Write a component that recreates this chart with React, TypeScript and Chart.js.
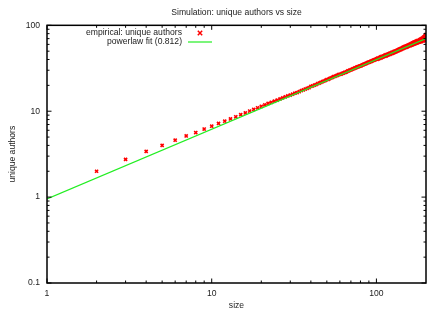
import React, { useEffect, useRef } from "react";
import { Chart, registerables } from "chart.js";

Chart.register(...registerables);

const titleText = "Simulation: unique authors vs size";
const xTitle = "size";
const yTitle = "unique authors";
const empiricalLabel = "empirical: unique authors";
const fitLabel = "powerlaw fit (0.812)";

const xTickValues = [1, 10, 100];
const yTickValues = [0.1, 1, 10, 100];

const sizes = [
  2, 3, 4, 5, 6, 7, 8, 9, 10, 11, 12, 13, 14, 15, 16, 17, 18, 19, 20,
  21, 22, 23, 24, 25, 26, 27, 28, 29, 30,
  31, 32, 33, 34, 35, 36, 37, 38, 39, 40,
  41, 42, 43, 44, 45, 46, 47, 48, 49, 50,
  51, 52, 53, 54, 55, 56, 57, 58, 59, 60,
  61, 62, 63, 64, 65, 66, 67, 68, 69, 70,
  71, 72, 73, 74, 75, 76, 77, 78, 79, 80,
  81, 82, 83, 84, 85, 86, 87, 88, 89, 90,
  91, 92, 93, 94, 95, 96, 97, 98, 99, 100,
  101, 102, 103, 104, 105, 106, 107, 108, 109, 110,
  111, 112, 113, 114, 115, 116, 117, 118, 119, 120,
  121, 122, 123, 124, 125, 126, 127, 128, 129, 130,
  131, 132, 133, 134, 135, 136, 137, 138, 139, 140,
  141, 142, 143, 144, 145, 146, 147, 148, 149, 150,
  151, 152, 153, 154, 155, 156, 157, 158, 159, 160,
  161, 162, 163, 164, 165, 166, 167, 168, 169, 170,
  171, 172, 173, 174, 175, 176, 177, 178, 179, 180,
  181, 182, 183, 184, 185, 186, 187, 188, 189, 190,
  191, 192, 193, 194, 195, 196, 197, 198, 199, 200,
];

const uniqueAuthors = [
  2.0, 2.75, 3.4, 4.0, 4.6, 5.15, 5.65, 6.2, 6.7, 7.2, 7.65, 8.13, 8.6, 9.1, 9.55, 10.05, 10.5, 10.95, 11.4,
  11.85, 12.3, 12.7, 13.1, 13.5, 13.9, 14.3, 14.7, 15.1, 15.4,
  15.8, 16.2, 16.5, 16.9, 17.4, 17.7, 18.1, 18.5, 18.8, 19.4,
  19.7, 20.1, 20.4, 20.9, 21.3, 21.6, 22.1, 22.4, 22.8, 23.3,
  23.5, 24.0, 24.4, 24.7, 25.2, 25.4, 25.9, 26.2, 26.7, 26.9,
  27.0, 27.6, 27.7, 28.3, 28.4, 28.8, 29.4, 29.5, 30.1, 30.2,
  30.6, 31.2, 31.3, 31.9, 32.0, 32.5, 32.9, 33.0, 33.6, 33.7,
  34.0, 34.6, 34.7, 35.3, 35.4, 35.9, 36.1, 36.7, 36.8, 37.3,
  37.4, 38.0, 38.0, 38.6, 38.7, 39.3, 39.4, 40.0, 40.0, 40.7,
  40.2, 41.6, 40.8, 42.2, 41.3, 42.8, 41.9, 43.4, 42.5, 43.9,
  43.2, 44.6, 43.7, 45.3, 44.2, 45.8, 44.9, 46.4, 45.5, 47.0,
  46.0, 47.6, 46.7, 48.3, 47.2, 48.9, 47.9, 49.6, 48.5, 50.2,
  49.0, 50.7, 49.8, 51.4, 50.3, 52.1, 51.0, 52.9, 51.7, 53.5,
  52.2, 54.0, 53.0, 55.0, 53.6, 55.7, 54.3, 56.4, 55.0, 57.0,
  55.3, 57.5, 55.9, 58.2, 56.5, 58.9, 57.3, 59.6, 57.9, 60.2,
  58.2, 60.9, 58.8, 61.6, 59.3, 62.4, 60.0, 63.1, 60.5, 63.6,
  61.0, 64.4, 61.5, 65.0, 62.1, 65.7, 62.6, 66.5, 63.3, 66.0,
  63.6, 67.5, 64.1, 68.3, 64.8, 69.0, 64.5, 70.0, 65.9, 70.4,
  66.4, 71.8, 65.7, 73.0, 67.4, 74.2, 66.9, 76.0, 68.8, 78.5,
];

const fitSizes = [1, 200];
const fitValues = [0.95, 70.2];

const FONT = "'Liberation Sans', Arial, sans-serif";
const FONT_SIZE = 8.6;
const TEXT_COLOR = "#222";
const RED = "#ff0000";
const GREEN = "#22ee22";

const frameAndTicks = {
  id: "frameAndTicks",
  afterDatasetsDraw(chart: any) {
    const { ctx, chartArea: a } = chart;
    const xs = chart.scales.x;
    const ys = chart.scales.y;
    ctx.save();
    ctx.strokeStyle = "#000";
    ctx.lineWidth = 1;
    const major = 4.5;
    const minor = 2.5;
    const drawX = (v: number, len: number) => {
      const px = xs.getPixelForValue(v);
      ctx.beginPath();
      ctx.moveTo(px, a.bottom);
      ctx.lineTo(px, a.bottom - len);
      ctx.moveTo(px, a.top);
      ctx.lineTo(px, a.top + len);
      ctx.stroke();
    };
    const drawY = (v: number, len: number) => {
      const py = ys.getPixelForValue(v);
      ctx.beginPath();
      ctx.moveTo(a.left, py);
      ctx.lineTo(a.left + len, py);
      ctx.moveTo(a.right, py);
      ctx.lineTo(a.right - len, py);
      ctx.stroke();
    };
    xTickValues.forEach((d) => {
      drawX(d, major);
      for (let k = 2; k <= 9; k++) {
        const v = k * d;
        if (v < xs.max) drawX(v, minor);
      }
    });
    yTickValues.forEach((d) => {
      drawY(d, major);
      if (d < ys.max) {
        for (let k = 2; k <= 9; k++) drawY(k * d, minor);
      }
    });
    ctx.lineWidth = 1.5;
    ctx.strokeRect(a.left, a.top, a.right - a.left, a.bottom - a.top);

    // legend (gnuplot style: text right-aligned, sample to the right)
    ctx.font = `${FONT_SIZE}px ${FONT}`;
    ctx.fillStyle = TEXT_COLOR;
    ctx.textAlign = "right";
    ctx.textBaseline = "middle";
    const ds = chart.data.datasets;
    const textRight = 182;
    const row1 = 33;
    const row2 = 42;
    ctx.fillText(ds[0].label, textRight, row1);
    ctx.fillText(ds[1].label, textRight, row2);
    ctx.strokeStyle = RED;
    ctx.lineWidth = 1.5;
    const cx = 200;
    const r = 2.2;
    ctx.beginPath();
    ctx.moveTo(cx - r, row1 - r);
    ctx.lineTo(cx + r, row1 + r);
    ctx.moveTo(cx - r, row1 + r);
    ctx.lineTo(cx + r, row1 - r);
    ctx.stroke();
    ctx.strokeStyle = GREEN;
    ctx.lineWidth = 1.2;
    ctx.beginPath();
    ctx.moveTo(188, row2);
    ctx.lineTo(212, row2);
    ctx.stroke();
    ctx.restore();
  },
};

export default function App() {
  const ref = useRef<HTMLCanvasElement>(null);
  useEffect(() => {
    document.body.style.margin = "0";
    const canvas = ref.current;
    if (!canvas) return;
    const chart = new Chart(canvas, {
      type: "scatter",
      data: {
        datasets: [
          {
            label: empiricalLabel,
            data: sizes.map((s, i) => ({ x: s, y: uniqueAuthors[i] })),
            pointStyle: "crossRot",
            radius: 2.2,
            borderWidth: 1.6,
            borderColor: RED,
            backgroundColor: RED,
            showLine: false,
            order: 2,
          },
          {
            label: fitLabel,
            data: fitSizes.map((s, i) => ({ x: s, y: fitValues[i] })),
            showLine: true,
            borderColor: GREEN,
            borderWidth: 1.2,
            pointRadius: 0,
            order: 1,
          },
        ],
      },
      options: {
        animation: false,
        responsive: true,
        maintainAspectRatio: false,
        layout: { autoPadding: false, padding: { left: 0, right: 1, top: 0, bottom: 0 } },
        plugins: {
          legend: { display: false },
          tooltip: { enabled: false },
          title: {
            display: true,
            text: titleText,
            fullSize: false,
            color: TEXT_COLOR,
            font: { family: FONT, size: FONT_SIZE, weight: "normal", lineHeight: 1.2 },
            padding: { top: 7, bottom: 8 },
          },
        },
        scales: {
          x: {
            type: "logarithmic",
            min: 1,
            max: 200,
            afterBuildTicks: (s: any) => {
              s.ticks = xTickValues.map((v) => ({ value: v }));
            },
            afterFit: (s: any) => {
              s.height = 26;
              s.paddingLeft = 0;
              s.paddingRight = 0;
            },
            grid: { display: false, drawTicks: false },
            border: { display: false },
            ticks: {
              autoSkip: false,
              maxRotation: 0,
              padding: 5,
              color: TEXT_COLOR,
              font: { family: FONT, size: FONT_SIZE },
              callback: (v: any) => String(v),
            },
            title: {
              display: true,
              text: xTitle,
              color: TEXT_COLOR,
              font: { family: FONT, size: FONT_SIZE, lineHeight: 0.9 },
              padding: { top: 0, bottom: 0 },
            },
          },
          y: {
            type: "logarithmic",
            min: 0.1,
            max: 100,
            afterBuildTicks: (s: any) => {
              s.ticks = yTickValues.map((v) => ({ value: v }));
            },
            afterFit: (s: any) => {
              s.width = 47;
              s.paddingTop = 0;
              s.paddingBottom = 0;
            },
            grid: { display: false, drawTicks: false },
            border: { display: false },
            ticks: {
              autoSkip: false,
              padding: 7,
              color: TEXT_COLOR,
              font: { family: FONT, size: FONT_SIZE },
              callback: (v: any) => String(v),
            },
            title: {
              display: true,
              text: yTitle,
              color: TEXT_COLOR,
              font: { family: FONT, size: FONT_SIZE, lineHeight: 1.2 },
              padding: { top: 7, bottom: 0 },
            },
          },
        },
      },
      plugins: [frameAndTicks],
    } as any);
    return () => chart.destroy();
  }, []);
  return (
    <div style={{ width: 427, height: 309, position: "relative" }}>
      <canvas ref={ref} />
    </div>
  );
}
